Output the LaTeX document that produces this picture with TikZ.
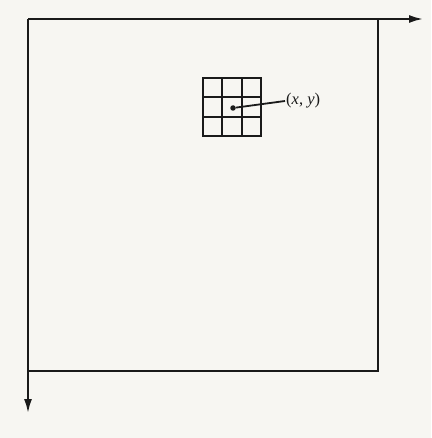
\documentclass[tikz,border=0pt]{standalone}
\usepackage{fontspec}
\setmainfont{Liberation Serif}
\usetikzlibrary{arrows.meta}
\definecolor{paper}{HTML}{F7F6F2}
\definecolor{ink}{HTML}{1A1A1A}
\begin{document}
\begin{tikzpicture}[x=1pt,y=1pt,
  axis/.style={draw=ink,line width=2pt,-{Latex[length=14pt,width=8pt]}},
  frame/.style={draw=ink,line width=2pt},
  gridline/.style={draw=ink,line width=1.8pt},
  pixdot/.style={circle,fill=ink,inner sep=0pt,minimum size=5.5pt},
  lbl/.style={inner sep=1pt,font=\fontsize{16.5}{18}\selectfont,text=ink}]
\fill[paper] (0,0) rectangle (431,-438);
\useasboundingbox (0,0) rectangle (431,-438);
\coordinate (O) at (28,-19);
\coordinate (XE) at (423,-19);
\coordinate (YE) at (28,-413);
\coordinate (TR) at (378,-19);
\coordinate (BR) at (378,-371);
\coordinate (BL) at (28,-371);
\draw[axis] (O) -- (XE);
\draw[axis] (O) -- (YE);
\draw[frame] (TR) -- (BR) -- (BL);
% 3x3 neighbourhood
\coordinate (G1) at (203,-78);
\coordinate (G2) at (261,-136);
\draw[gridline] (G1) rectangle (G2);
\draw[gridline] (222.3,-78) -- (222.3,-136);
\draw[gridline] (241.7,-78) -- (241.7,-136);
\draw[gridline] (203,-97.3) -- (261,-97.3);
\draw[gridline] (203,-116.7) -- (261,-116.7);
\node[pixdot] (P) at (233,-108) {};
\node[lbl,anchor=west] (L) at (285,-101) {(\textit{x},\hspace{0.25em}\textit{y})};
\draw[ink,line width=1.8pt] (P) -- (L.west);
\end{tikzpicture}
\end{document}
